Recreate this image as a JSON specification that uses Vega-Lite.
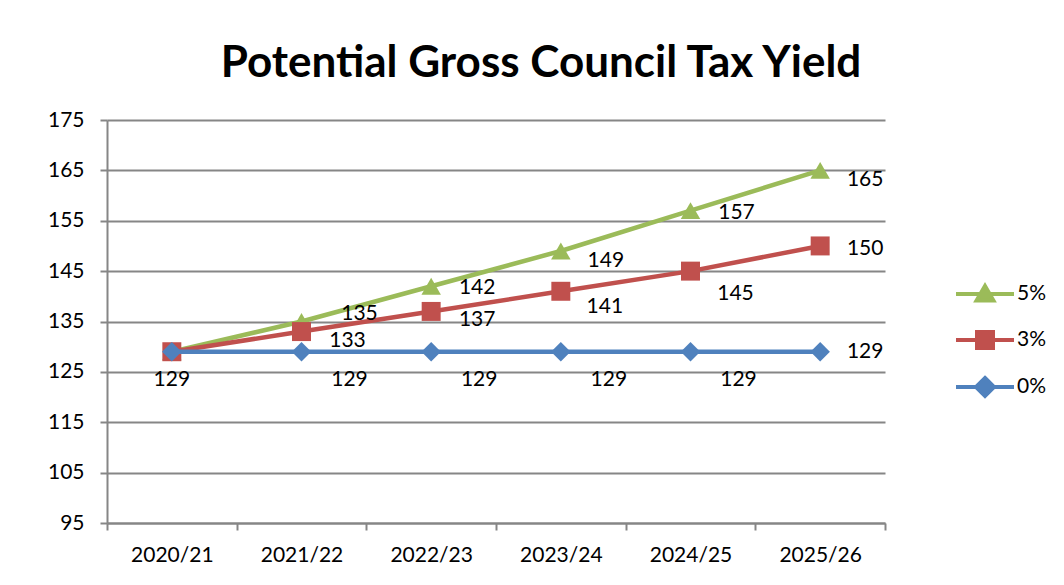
{
  "$schema": "https://vega.github.io/schema/vega-lite/v6.json",
  "autosize": "none",
  "width": 778,
  "height": 403,
  "padding": {"left": 107, "top": 120, "right": 179, "bottom": 62},
  "background": "white",
  "title": {
    "text": "Potential Gross Council Tax Yield",
    "font": "Lato",
    "fontSize": 44,
    "fontWeight": "bold",
    "color": "#000000",
    "anchor": "middle",
    "dx": 45,
    "offset": 23
  },
  "config": {
    "view": {"stroke": null},
    "font": "Lato",
    "axis": {
      "labelFont": "Lato",
      "labelFontSize": 21,
      "labelColor": "#000000",
      "domainColor": "#868686",
      "domainWidth": 2,
      "tickColor": "#868686",
      "tickWidth": 2,
      "gridColor": "#868686",
      "gridWidth": 2,
      "title": null
    }
  },
  "data": {
    "values": [
      {"year": "2020/21", "series": "0%", "value": 129},
      {"year": "2021/22", "series": "0%", "value": 129},
      {"year": "2022/23", "series": "0%", "value": 129},
      {"year": "2023/24", "series": "0%", "value": 129},
      {"year": "2024/25", "series": "0%", "value": 129},
      {"year": "2025/26", "series": "0%", "value": 129},
      {"year": "2020/21", "series": "3%", "value": 129},
      {"year": "2021/22", "series": "3%", "value": 133},
      {"year": "2022/23", "series": "3%", "value": 137},
      {"year": "2023/24", "series": "3%", "value": 141},
      {"year": "2024/25", "series": "3%", "value": 145},
      {"year": "2025/26", "series": "3%", "value": 150},
      {"year": "2020/21", "series": "5%", "value": 129},
      {"year": "2021/22", "series": "5%", "value": 135},
      {"year": "2022/23", "series": "5%", "value": 142},
      {"year": "2023/24", "series": "5%", "value": 149},
      {"year": "2024/25", "series": "5%", "value": 157},
      {"year": "2025/26", "series": "5%", "value": 165}
    ]
  },
  "encoding": {
    "x": {
      "field": "year",
      "type": "ordinal",
      "bandPosition": 0.5,
      "scale": {"type": "band", "paddingInner": 0, "paddingOuter": 0},
      "axis": {
        "labelAngle": 0,
        "tickBand": "extent",
        "tickSize": 7,
        "labelPadding": 14,
        "grid": false
      }
    },
    "y": {
      "field": "value",
      "type": "quantitative",
      "scale": {"domain": [95, 175], "nice": false, "zero": false},
      "axis": {
        "values": [95, 105, 115, 125, 135, 145, 155, 165, 175],
        "tickSize": 7,
        "labelPadding": 16,
        "grid": true
      }
    }
  },
  "layer": [
    {
      "transform": [{"filter": "datum.series === '5%'"}],
      "mark": {"type": "line", "strokeWidth": 4.5},
      "encoding": {
        "order": {"field": "year"},
        "color": {
          "field": "series",
          "type": "nominal",
          "scale": {"domain": ["5%", "3%", "0%"], "range": ["#9BBB59", "#C0504D", "#4F81BD"]},
          "legend": {
            "title": null,
            "orient": "none",
            "legendX": 856,
            "legendY": 152,
            "padding": 0,
            "symbolSize": 1600,
            "rowPadding": 9,
            "labelOffset": 10,
            "labelFont": "Lato",
            "labelFontSize": 21,
            "labelColor": "#000000",
            "symbolStrokeWidth": 4,
            "encode": {
              "symbols": {
                "update": {
                  "shape": {"signal": "datum.value === '5%' ? 'M-1.45,0L1.45,0M0,-0.4L0.42,0.32L-0.42,0.32Z' : datum.value === '3%' ? 'M-1.45,0L1.45,0M-0.4,-0.4L0.4,-0.4L0.4,0.4L-0.4,0.4Z' : 'M-1.45,0L1.45,0M0,-0.45L0.45,0L0,0.45L-0.45,0Z'"},
                  "fill": {"signal": "scale('color', datum.value)"},
                  "stroke": {"signal": "scale('color', datum.value)"},
                  "strokeWidth": {"value": 4},
                  "opacity": {"value": 1},
                  "fillOpacity": {"value": 1}
                }
              }
            }
          }
        }
      }
    },
    {
      "transform": [{"filter": "datum.series === '5%'"}],
      "mark": {"type": "point", "filled": true, "opacity": 1, "size": 380, "shape": "triangle-up", "color": "#9BBB59"}
    },
    {
      "transform": [{"filter": "datum.series === '3%'"}],
      "mark": {"type": "line", "strokeWidth": 4.5},
      "encoding": {
        "order": {"field": "year"},
        "color": {"field": "series", "type": "nominal"}
      }
    },
    {
      "transform": [{"filter": "datum.series === '3%'"}],
      "mark": {"type": "point", "filled": true, "opacity": 1, "size": 360, "shape": "square", "color": "#C0504D"}
    },
    {
      "transform": [{"filter": "datum.series === '0%'"}],
      "mark": {"type": "line", "strokeWidth": 4.5},
      "encoding": {
        "order": {"field": "year"},
        "color": {"field": "series", "type": "nominal"}
      }
    },
    {
      "transform": [{"filter": "datum.series === '0%'"}],
      "mark": {"type": "point", "filled": true, "opacity": 1, "size": 380, "shape": "diamond", "color": "#4F81BD"}
    },
    {
      "transform": [{"filter": "datum.series === '0%' && datum.year === '2020/21'"}],
      "mark": {"type": "text", "font": "Lato", "fontSize": 21, "color": "#000000", "dx": 0, "dy": 28},
      "encoding": {"text": {"field": "value"}}
    },
    {
      "transform": [{"filter": "datum.series === '0%' && datum.year !== '2020/21' && datum.year !== '2025/26'"}],
      "mark": {"type": "text", "font": "Lato", "fontSize": 21, "color": "#000000", "dx": 48, "dy": 28},
      "encoding": {"text": {"field": "value"}}
    },
    {
      "transform": [{"filter": "datum.series === '0%' && datum.year === '2025/26'"}],
      "mark": {"type": "text", "font": "Lato", "fontSize": 21, "color": "#000000", "dx": 45, "dy": 0},
      "encoding": {"text": {"field": "value"}}
    },
    {
      "transform": [{"filter": "datum.series === '3%' && (datum.year === '2021/22' || datum.year === '2022/23')"}],
      "mark": {"type": "text", "font": "Lato", "fontSize": 21, "color": "#000000", "dx": 46, "dy": 9},
      "encoding": {"text": {"field": "value"}}
    },
    {
      "transform": [{"filter": "datum.series === '3%' && datum.year === '2023/24'"}],
      "mark": {"type": "text", "font": "Lato", "fontSize": 21, "color": "#000000", "dx": 44, "dy": 16},
      "encoding": {"text": {"field": "value"}}
    },
    {
      "transform": [{"filter": "datum.series === '3%' && datum.year === '2024/25'"}],
      "mark": {"type": "text", "font": "Lato", "fontSize": 21, "color": "#000000", "dx": 45, "dy": 23},
      "encoding": {"text": {"field": "value"}}
    },
    {
      "transform": [{"filter": "datum.series === '3%' && datum.year === '2025/26'"}],
      "mark": {"type": "text", "font": "Lato", "fontSize": 21, "color": "#000000", "dx": 45, "dy": 3},
      "encoding": {"text": {"field": "value"}}
    },
    {
      "transform": [{"filter": "datum.series === '5%' && datum.year === '2021/22'"}],
      "mark": {"type": "text", "font": "Lato", "fontSize": 21, "color": "#000000", "dx": 58, "dy": -8},
      "encoding": {"text": {"field": "value"}}
    },
    {
      "transform": [{"filter": "datum.series === '5%' && (datum.year === '2022/23' || datum.year === '2024/25')"}],
      "mark": {"type": "text", "font": "Lato", "fontSize": 21, "color": "#000000", "dx": 46, "dy": 2},
      "encoding": {"text": {"field": "value"}}
    },
    {
      "transform": [{"filter": "datum.series === '5%' && (datum.year === '2023/24' || datum.year === '2025/26')"}],
      "mark": {"type": "text", "font": "Lato", "fontSize": 21, "color": "#000000", "dx": 45, "dy": 10},
      "encoding": {"text": {"field": "value"}}
    }
  ]
}
